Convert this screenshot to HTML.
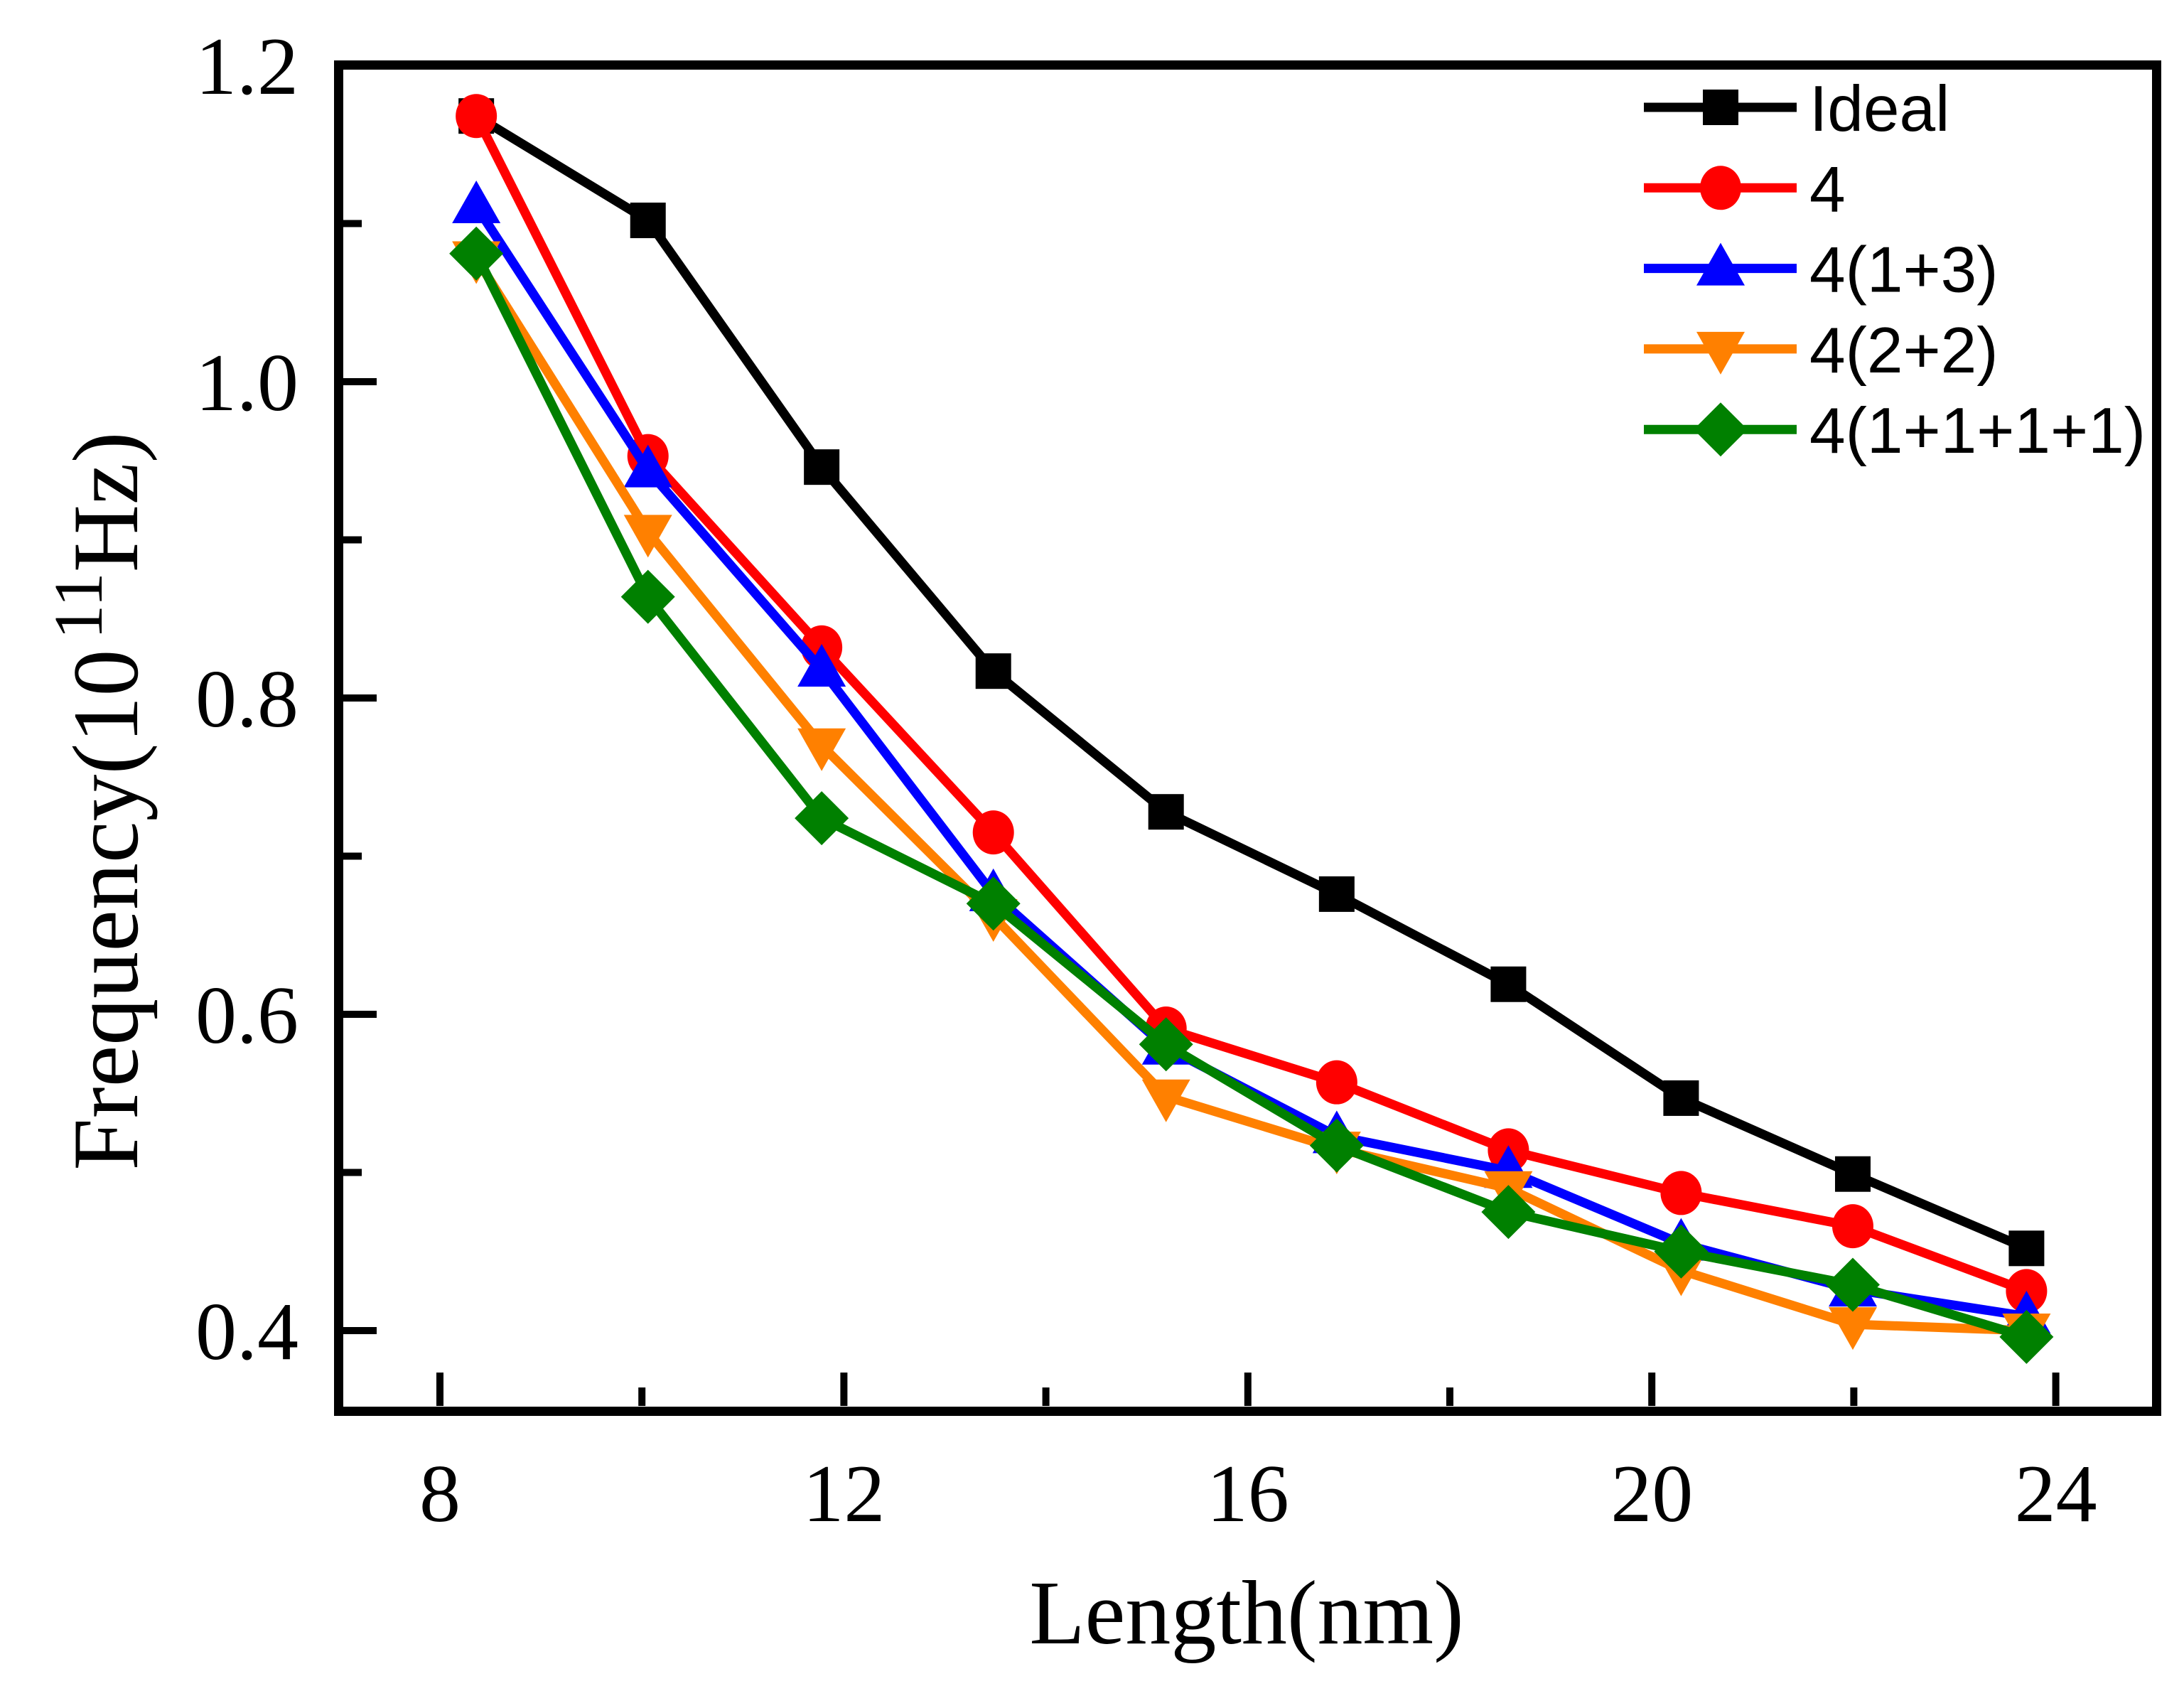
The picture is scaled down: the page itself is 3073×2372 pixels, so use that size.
<!DOCTYPE html>
<html><head><meta charset="utf-8"><style>
html,body{margin:0;padding:0;background:#fff}
svg{display:block}
</style></head><body>
<svg id="chart" xmlns="http://www.w3.org/2000/svg" width="3073" height="2372" viewBox="0 0 3073 2372">
<rect x="0" y="0" width="3073" height="2372" fill="#fff"/>
<g id="plot"></g>
<rect x="476.5" y="91.5" width="2558" height="1894" fill="none" stroke="#000" stroke-width="13"/>
<text x="1754" y="2312" font-family="Liberation Serif, serif" font-size="128" text-anchor="middle">Length(nm)</text>
<text transform="translate(193,1127) rotate(-90)" font-family="Liberation Serif, serif" font-size="132" text-anchor="middle">Frequency(10<tspan dy="-50" font-size="98" dx="14">11</tspan><tspan dy="50">Hz)</tspan></text>
<g id="legend"></g>
</svg>
<script>
const xValues=[8.36,10.06,11.78,13.48,15.19,16.88,18.58,20.29,21.99,23.71];
const seriesNames=["Ideal","4","4(1+3)","4(2+2)","4(1+1+1+1)"];
const idealVals=[1.168,1.102,0.946,0.817,0.728,0.676,0.619,0.547,0.499,0.452];
const s4Vals=[1.168,0.953,0.832,0.715,0.591,0.557,0.514,0.487,0.466,0.425];
const s13Vals=[1.111,0.944,0.818,0.676,0.579,0.523,0.501,0.455,0.426,0.409];
const s22Vals=[1.078,0.905,0.770,0.662,0.548,0.515,0.490,0.438,0.404,0.400];
const s1111Vals=[1.081,0.864,0.724,0.670,0.581,0.517,0.475,0.450,0.429,0.396];
const xTicks=[8,12,16,20,24];
const xMinor=[10,14,18,22];
const yTicks=["0.4","0.6","0.8","1.0","1.2"];
const yMinor=[0.5,0.7,0.9,1.1];

const NS="http://www.w3.org/2000/svg";
function X(v){return 619+(v-8)*142.1;}
function Y(v){return 1872-(v-0.4)*2225;}
const plot=document.getElementById('plot');
const legend=document.getElementById('legend');
function mk(tag,attrs,parent){const e=document.createElementNS(NS,tag);for(const k in attrs)e.setAttribute(k,attrs[k]);parent.appendChild(e);return e;}

const bottom=1978,left=483;
xTicks.forEach(t=>{
  const l=mk('line',{x1:X(t),x2:X(t),y1:bottom,y2:bottom-47,stroke:'#000','stroke-width':10},plot);
  
  
  const tx=mk('text',{x:X(t),y:2140,'font-family':'Liberation Serif, serif','font-size':116,'text-anchor':'middle'},plot);
  tx.textContent=t;
  
  
});
xMinor.forEach(t=>{
  const l=mk('line',{x1:X(t),x2:X(t),y1:bottom,y2:bottom-26,stroke:'#000','stroke-width':10},plot);
  
  
});
yTicks.forEach(t=>{
  const v=parseFloat(t);
  const l=mk('line',{x1:left,x2:left+47,y1:Y(v),y2:Y(v),stroke:'#000','stroke-width':10},plot);
  
  
  const tx=mk('text',{x:420,y:Y(v)+40,'font-family':'Liberation Serif, serif','font-size':116,'text-anchor':'end'},plot);
  tx.textContent=t;
  
  
});
yMinor.forEach(v=>{
  const l=mk('line',{x1:left,x2:left+26,y1:Y(v),y2:Y(v),stroke:'#000','stroke-width':10},plot);
  
  
});

function marker(kind,cx,cy,color,parent){
  let e;
  if(kind==='square')e=mk('rect',{x:cx-25,y:cy-25,width:50,height:50,fill:color},parent);
  else if(kind==='circle')e=mk('ellipse',{cx:cx,cy:cy,rx:29,ry:31,fill:color},parent);
  else if(kind==='up')e=mk('polygon',{points:`${cx},${cy-36} ${cx-34},${cy+24} ${cx+34},${cy+24}`,fill:color},parent);
  else if(kind==='down')e=mk('polygon',{points:`${cx},${cy+36} ${cx-34},${cy-24} ${cx+34},${cy-24}`,fill:color},parent);
  else e=mk('polygon',{points:`${cx},${cy-38} ${cx+38},${cy} ${cx},${cy+38} ${cx-38},${cy}`,fill:color},parent);
  return e;
}
const all=[idealVals,s4Vals,s13Vals,s22Vals,s1111Vals];
const colors=['#000','#ff0000','#0000ff','#ff8000','#008000'];
const kinds=['square','circle','up','down','diamond'];
const slugs=['ideal','4','4-1-3','4-2-2','4-1-1-1-1'];
all.forEach((vals,i)=>{
  const g=mk('g',{},plot);
  
  
  const pts=vals.map((v,j)=>X(xValues[j])+','+Y(v)).join(' ');
  const pl=mk('polyline',{points:pts,fill:'none',stroke:colors[i],'stroke-width':13,'stroke-linejoin':'miter'},g);
  
  
  vals.forEach((v,j)=>{
    const m=marker(kinds[i],X(xValues[j]),Y(v),colors[i],g);
    
    
  });
  const ly=151+i*113.3;
  const lg=mk('g',{},legend);
  
  
  mk('line',{x1:2313,x2:2528,y1:ly,y2:ly,stroke:colors[i],'stroke-width':13},lg);
  marker(kinds[i],2421,ly,colors[i],lg);
  const t=mk('text',{x:2546,y:ly+33,'font-family':'Liberation Sans, sans-serif','font-size':91},lg);
  t.textContent=seriesNames[i];
});
</script>
</body></html>
